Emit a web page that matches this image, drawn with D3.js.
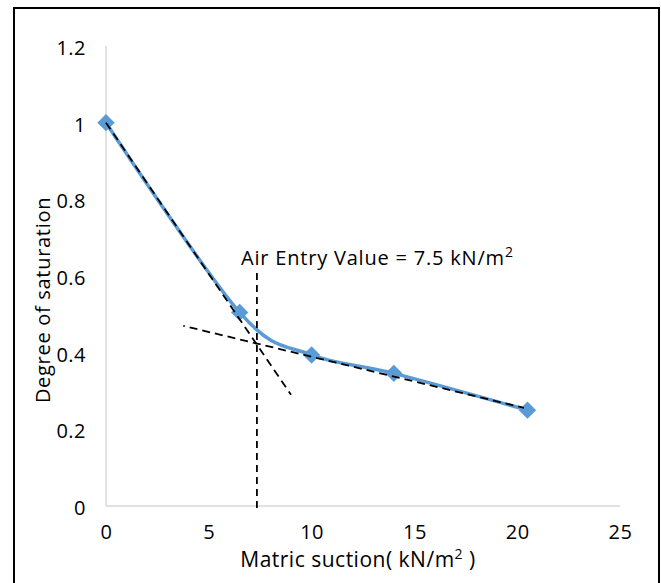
<!DOCTYPE html>
<html>
<head>
<meta charset="utf-8">
<script src="https://cdn.jsdelivr.net/npm/d3@7"></script>
<style>
  body { margin: 0; background: #fff; }
  svg { display: block; font-family: "Open Sans", sans-serif; }
</style>
</head>
<body>
<div id="chart"></div>
<script>
// measured suction / saturation points
const suction = [0, 6.5, 10, 14, 20.5];
const saturation = [1.0, 0.505, 0.394, 0.346, 0.25];

const xTicks = [0, 5, 10, 15, 20, 25];
const yTicks = [0, 0.2, 0.4, 0.6, 0.8, 1, 1.2];

// construction lines for the air entry value
const steepX = [0, 9.0];
const steepY = [1.0, 0.29];
const flatX = [3.76, 20.33];
const flatY = [0.47, 0.256];
const aevX = [7.34, 7.34];
const aevY = [-0.005, 0.616];

const width = 661;
const height = 583;

const svg = d3.select("#chart")
  .append("svg")
  .attr("width", width)
  .attr("height", height);

// outer frame (bottom edge is cut off in the picture)
svg.append("rect")
  .attr("x", 14)
  .attr("y", 8)
  .attr("width", 645)
  .attr("height", 600)
  .attr("fill", "none")
  .attr("stroke", "#000")
  .attr("stroke-width", 2);

const x = d3.scaleLinear().domain([0, 25]).range([106, 620]);
const y = d3.scaleLinear().domain([0, 1.2]).range([506, 46]);

// axis lines, Excel style light grey
svg.append("line")
  .attr("x1", x(0)).attr("x2", x(0))
  .attr("y1", y(0)).attr("y2", y(1.2))
  .attr("stroke", "#d9d9d9")
  .attr("stroke-width", 1.5);

svg.append("line")
  .attr("x1", x(0)).attr("x2", x(25))
  .attr("y1", y(0)).attr("y2", y(0))
  .attr("stroke", "#d9d9d9")
  .attr("stroke-width", 1.5);

const yAxis = svg.append("g")
  .attr("transform", `translate(${x(0)},0)`)
  .call(d3.axisLeft(y).tickValues(yTicks).tickSize(0).tickPadding(20)
    .tickFormat(d => d3.format("")(d)));
yAxis.select(".domain").remove();
yAxis.selectAll("text")
  .attr("font-size", 20)
  .attr("font-family", "Open Sans, sans-serif")
  .attr("letter-spacing", 0.5)
  .attr("fill", "#000")
  .attr("dy", "0.42em");

const xAxis = svg.append("g")
  .attr("transform", `translate(0,${y(0)})`)
  .call(d3.axisBottom(x).tickValues(xTicks).tickSize(0).tickPadding(19));
xAxis.select(".domain").remove();
xAxis.selectAll("text")
  .attr("font-size", 20)
  .attr("font-family", "Open Sans, sans-serif")
  .attr("letter-spacing", 0.5)
  .attr("fill", "#000");

// construction lines
function dashed(xs, ys, dash, offset) {
  svg.append("line")
    .attr("x1", x(xs[0])).attr("y1", y(ys[0]))
    .attr("x2", x(xs[1])).attr("y2", y(ys[1]))
    .attr("stroke", "#000")
    .attr("stroke-width", 1.8)
    .attr("stroke-dasharray", dash)
    .attr("stroke-dashoffset", offset || 0);
}

// series line, smoothed like Excel
const pts = suction.map((s, i) => [s, saturation[i]]);
const line = d3.line()
  .x(d => x(d[0]))
  .y(d => y(d[1]))
  .curve(d3.curveCardinal.tension(0));

svg.append("path")
  .datum(pts)
  .attr("d", line)
  .attr("fill", "none")
  .attr("stroke", "#5b9bd5")
  .attr("stroke-width", 3.5);

svg.append("g")
  .selectAll("path")
  .data(pts)
  .join("path")
  .attr("d", d3.symbol().type(d3.symbolSquare).size(150))
  .attr("transform", d => `translate(${x(d[0])},${y(d[1])}) rotate(45)`)
  .attr("fill", "#5b9bd5");

dashed(steepX, steepY, "8,5");
dashed(flatX, flatY, "8,5", 6.5);
dashed(aevX, aevY, "7,5");

// annotation
const note = svg.append("text")
  .attr("x", 241)
  .attr("y", 265)
  .attr("font-size", 20)
  .attr("letter-spacing", 0.8)
  .attr("fill", "#000");
note.append("tspan").text("Air Entry Value = 7.5 kN/m");
note.append("tspan").attr("dy", -8).attr("font-size", 14).text("2");

// axis titles
const xt = svg.append("text")
  .attr("x", 358)
  .attr("y", 567)
  .attr("text-anchor", "middle")
  .attr("font-size", 21)
  .attr("letter-spacing", 0.5)
  .attr("fill", "#000");
xt.append("tspan").text("Matric suction( kN/m");
xt.append("tspan").attr("dy", -8).attr("font-size", 14).text("2");
xt.append("tspan").attr("dy", 8).text(" )");

svg.append("text")
  .attr("transform", "translate(50,300) rotate(-90)")
  .attr("text-anchor", "middle")
  .attr("font-size", 20)
  .attr("letter-spacing", 0.7)
  .attr("fill", "#000")
  .text("Degree of saturation");
</script>
</body>
</html>
